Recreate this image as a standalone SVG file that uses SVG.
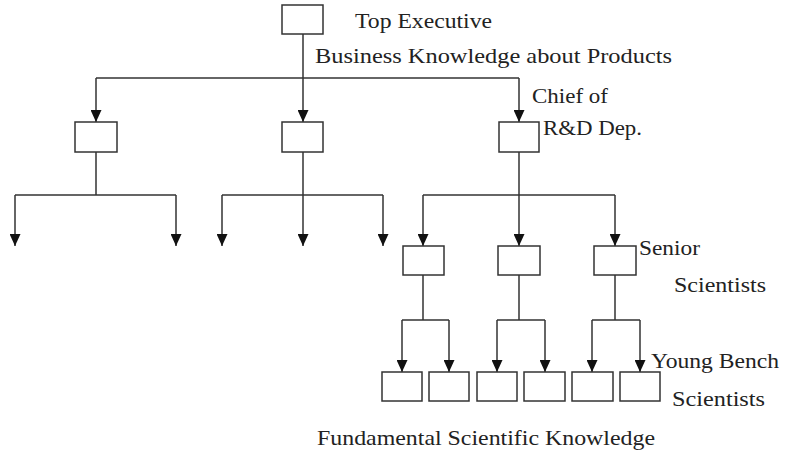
<svg xmlns="http://www.w3.org/2000/svg" width="786" height="451" viewBox="0 0 786 451">
<style>
.box{fill:#fff;stroke:#333;stroke-width:1.5}
.ln{fill:none;stroke:#333;stroke-width:1.5}
.ar{marker-end:url(#ah)}
text{font-family:"Liberation Serif","Times New Roman",serif;font-size:21px;fill:#222}
</style>
<defs>
<marker id="ah" viewBox="0 0 12 11" refX="12" refY="5.5" markerWidth="12" markerHeight="11" markerUnits="userSpaceOnUse" orient="auto">
<path d="M0,0 L12,5.5 L0,11 z" fill="#111"/>
</marker>
</defs>
<rect width="786" height="451" fill="#fff"/>
<g id="connectors">
<path class="ln" d="M96,78 H519"/>
<path class="ln ar" d="M303,34 V122"/>
<path class="ln ar" d="M96,78 V122"/>
<path class="ln ar" d="M519,78 V122"/>
<path class="ln" d="M96,152 V195 M15,195 H176"/>
<path class="ln ar" d="M15,195 V246"/>
<path class="ln ar" d="M176,195 V246"/>
<path class="ln" d="M222,195 H383"/>
<path class="ln ar" d="M303,152 V246"/>
<path class="ln ar" d="M222,195 V246"/>
<path class="ln ar" d="M383,195 V246"/>
<path class="ln" d="M423,195 H615"/>
<path class="ln ar" d="M519,152 V246"/>
<path class="ln ar" d="M423,195 V246"/>
<path class="ln ar" d="M615,195 V246"/>
<path class="ln" d="M423,275 V320 M402,320 H449"/>
<path class="ln ar" d="M402,320 V372"/>
<path class="ln ar" d="M449,320 V372"/>
<path class="ln" d="M519,275 V320 M497,320 H545"/>
<path class="ln ar" d="M497,320 V372"/>
<path class="ln ar" d="M545,320 V372"/>
<path class="ln" d="M615,275 V320 M592,320 H640"/>
<path class="ln ar" d="M592,320 V372"/>
<path class="ln ar" d="M640,320 V372"/>
</g>
<g id="top"><rect class="box" x="282" y="5" width="41" height="29"/><text x="355" y="28" textLength="137" lengthAdjust="spacingAndGlyphs">Top Executive</text></g>
<text id="label-business" x="315" y="63" textLength="357" lengthAdjust="spacingAndGlyphs">Business Knowledge about Products</text>
<g id="mgr-left"><rect class="box" x="75" y="122" width="42" height="30"/></g>
<g id="mgr-mid"><rect class="box" x="282" y="122" width="41" height="30"/></g>
<g id="chief"><rect class="box" x="499" y="122" width="40" height="30"/><text x="532" y="103" textLength="76" lengthAdjust="spacingAndGlyphs">Chief of</text><text x="543" y="135" textLength="99" lengthAdjust="spacingAndGlyphs">R&amp;D Dep.</text></g>
<g id="senior1"><rect class="box" x="403" y="246" width="41" height="29"/></g>
<g id="senior2"><rect class="box" x="498" y="246" width="42" height="29"/></g>
<g id="senior3"><rect class="box" x="594" y="246" width="42" height="29"/><text x="639" y="255" textLength="61" lengthAdjust="spacingAndGlyphs">Senior</text><text x="674" y="292" textLength="92" lengthAdjust="spacingAndGlyphs">Scientists</text></g>
<g id="young1"><rect class="box" x="382" y="372" width="40" height="29"/></g>
<g id="young2"><rect class="box" x="429" y="372" width="40" height="29"/></g>
<g id="young3"><rect class="box" x="477" y="372" width="40" height="29"/></g>
<g id="young4"><rect class="box" x="524" y="372" width="41" height="29"/></g>
<g id="young5"><rect class="box" x="572" y="372" width="41" height="29"/></g>
<g id="young6"><rect class="box" x="620" y="372" width="40" height="29"/><text x="651" y="368" textLength="128" lengthAdjust="spacingAndGlyphs">Young Bench</text><text x="672" y="406" textLength="93" lengthAdjust="spacingAndGlyphs">Scientists</text></g>
<text id="label-fundamental" x="317" y="445" textLength="338" lengthAdjust="spacingAndGlyphs">Fundamental Scientific Knowledge</text>
</svg>
